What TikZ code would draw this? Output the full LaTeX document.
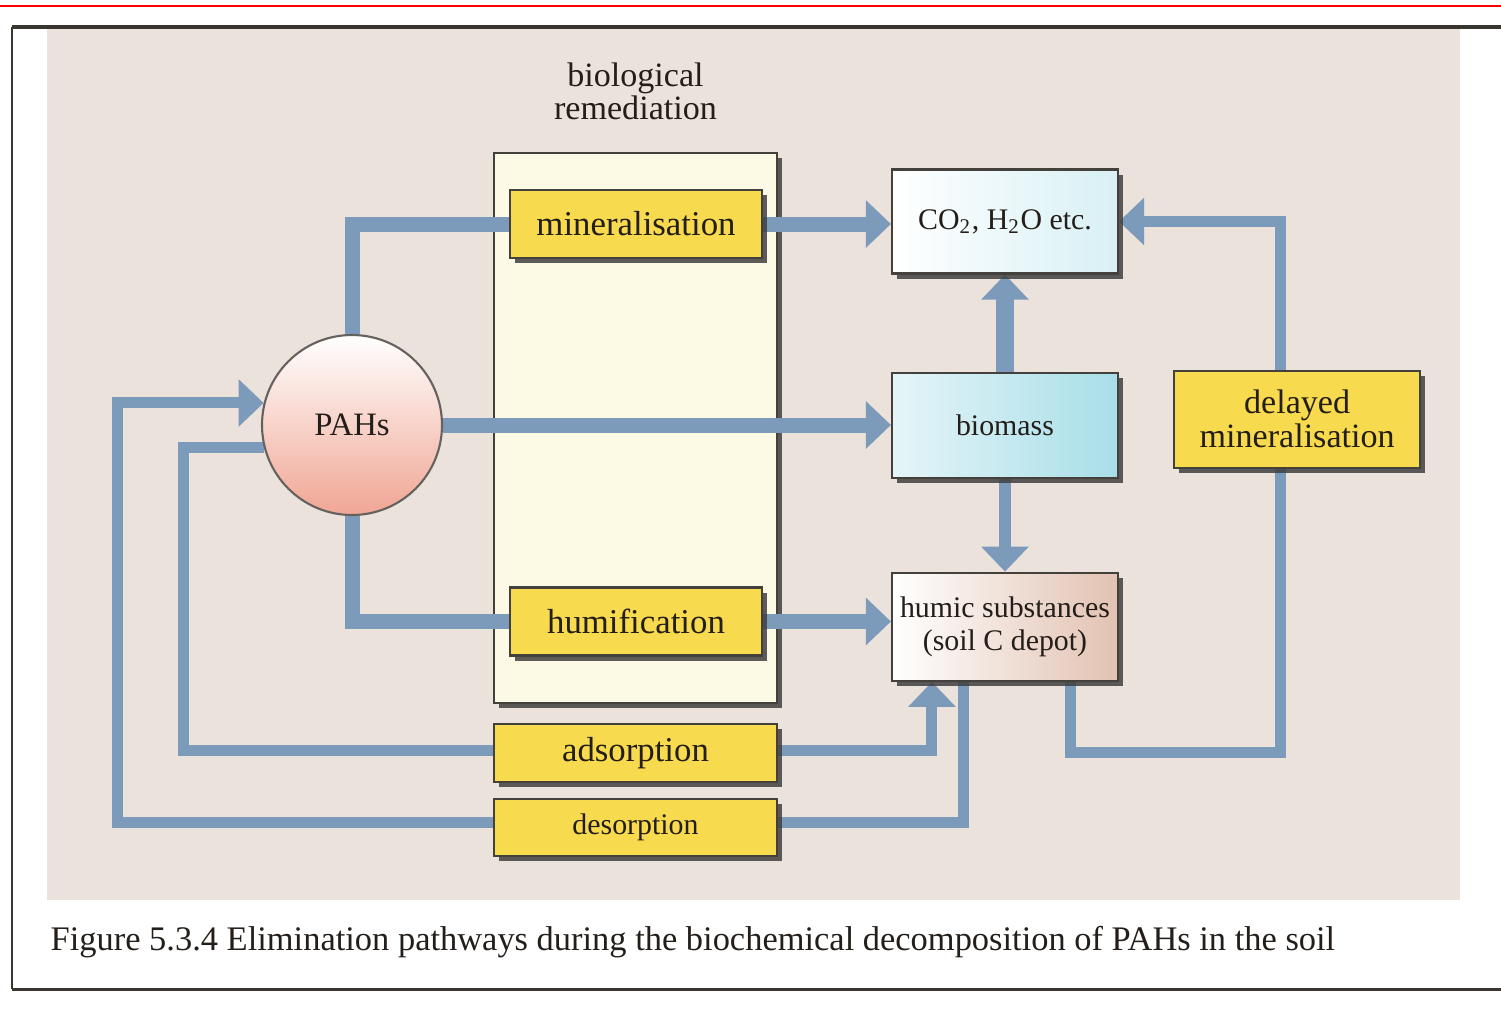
\documentclass[tikz,border=0pt]{standalone}
\usepackage{fontspec}
\setmainfont{Liberation Serif}
\usepackage{tikz}
\usetikzlibrary{arrows.meta, positioning, shadows}

\definecolor{flowblue}{RGB}{124,154,186}
\definecolor{panelbg}{RGB}{236,226,220}
\definecolor{boxyellow}{RGB}{248,218,78}
\definecolor{cream}{RGB}{252,249,228}
\definecolor{paleaqua}{RGB}{168,222,232}
\definecolor{humtan}{RGB}{226,194,178}
\definecolor{pahpink}{RGB}{240,166,148}
\definecolor{inkdark}{RGB}{35,30,25}

\pgfdeclarelayer{bg}
\pgfdeclarelayer{lines}
\pgfsetlayers{bg,lines,main}

\begin{document}
\begin{tikzpicture}[
    node distance=0.9cm,
    box/.style={rectangle, draw=inkdark!85, line width=0.6pt, align=center, text=inkdark, drop shadow={shadow xshift=0.05cm, shadow yshift=-0.05cm, fill=black!75, opacity=0.85}},
    ybox/.style={box, fill=boxyellow, minimum width=2.52cm, minimum height=0.68cm, font=\fontsize{9.9}{11}\selectfont},
    wbox/.style={box, fill=boxyellow, minimum width=2.83cm, minimum height=0.58cm},
    cbox/.style={box, minimum width=2.26cm, minimum height=1.04cm, inner xsep=1pt, font=\fontsize{8.5}{9.5}\selectfont},
    mainflow/.style={draw=flowblue, line width=0.15cm},
    sideflow/.style={draw=flowblue, line width=0.11cm},
    flowtip/.style={-{Triangle[width=0.46cm, length=0.25cm]}}
]

\useasboundingbox (0,0) rectangle (15.01,-10.10);

\begin{pgfonlayer}{bg}
\draw[red, line width=0.02cm] (0,-0.06) -- (15.01,-0.06);
\fill[panelbg] (0.47,-0.29) rectangle (14.60,-9.00);
\draw[inkdark!90, line width=0.04cm] (0.12,-0.27) -- (15.01,-0.27);
\draw[inkdark!90, line width=0.02cm] (0.12,-0.27) -- (0.12,-9.89);
\draw[inkdark!90, line width=0.03cm] (0.12,-9.89) -- (15.01,-9.89);

\node[box, fill=cream, minimum width=2.83cm, minimum height=5.50cm] (remed) at (6.355,-4.28) {};
\node[above=0.2cm of remed, align=center, text=inkdark, font=\fontsize{9.7}{9.3}\selectfont] (remlabel) {biological\\remediation};
\end{pgfonlayer}

\node[ybox] (minr) at (6.36,-2.24) {mineralisation};
\node[ybox] (humi) at (6.36,-6.215) {humification};
\node[wbox, below=0.19cm of remed, font=\fontsize{9.9}{11}\selectfont] (ads) {adsorption};
\node[wbox, below=0.15cm of ads, minimum height=0.57cm, font=\fontsize{8.5}{10}\selectfont] (des) {desorption};

\node[circle, draw=inkdark!70, line width=0.6pt, minimum size=1.8cm, top color=white, bottom color=pahpink, text=inkdark, font=\fontsize{9.3}{11}\selectfont] (pahs) at (3.52,-4.25) {PAHs};

\node[cbox, left color=white, right color=paleaqua!45] (co2) at (10.05,-2.215) {CO\textsubscript{2}, H\textsubscript{2}O etc.};
\node[cbox, below=0.97cm of co2, left color=paleaqua!30, right color=paleaqua, minimum height=1.05cm] (biomass) {biomass};
\node[cbox, below=0.93cm of biomass, left color=white, right color=humtan, minimum height=1.08cm] (humic) {humic substances\\(soil C depot)};
\node[box, fill=boxyellow, right=0.54cm of biomass, yshift=0.06cm, minimum width=2.46cm, minimum height=0.97cm, font=\fontsize{9.7}{9.8}\selectfont] (delayed) {delayed\\mineralisation};

\node[anchor=west, text=inkdark, inner xsep=0pt, font=\fontsize{9.8}{12}\selectfont] (caption) at (0.50,-9.42) {Figure 5.3.4 Elimination pathways during the biochemical decomposition of PAHs in the soil};

\coordinate (adL) at (1.83,-7.50);
\coordinate (dsL) at (1.17,-8.22);
\coordinate (dlR) at (12.80,-7.52);

\begin{pgfonlayer}{lines}
\draw[mainflow] (pahs.north) |- (minr.west);
\draw[mainflow, flowtip] (minr.east) -- (minr.east -| co2.west);
\draw[mainflow, flowtip] (pahs.east) -- (pahs.east -| biomass.west);
\draw[mainflow] (pahs.south) |- (humi.west);
\draw[mainflow, flowtip] (humi.east) -- (humi.east -| humic.west);
\draw[mainflow, line width=0.18cm, flowtip] (biomass.north) -- (co2.south);
\draw[mainflow, line width=0.12cm, flowtip] (biomass.south) -- (humic.north);
\draw[sideflow, flowtip] ([xshift=0.65cm]humic.south) |- (dlR) |- (co2.east);
\draw[sideflow, flowtip] (pahs.194) -| (adL) -| ([xshift=0.41cm]humic.south west);
\draw[sideflow, flowtip] ([xshift=0.73cm]humic.south west) |- (dsL) |- (pahs.166);
\end{pgfonlayer}

\end{tikzpicture}
\end{document}
